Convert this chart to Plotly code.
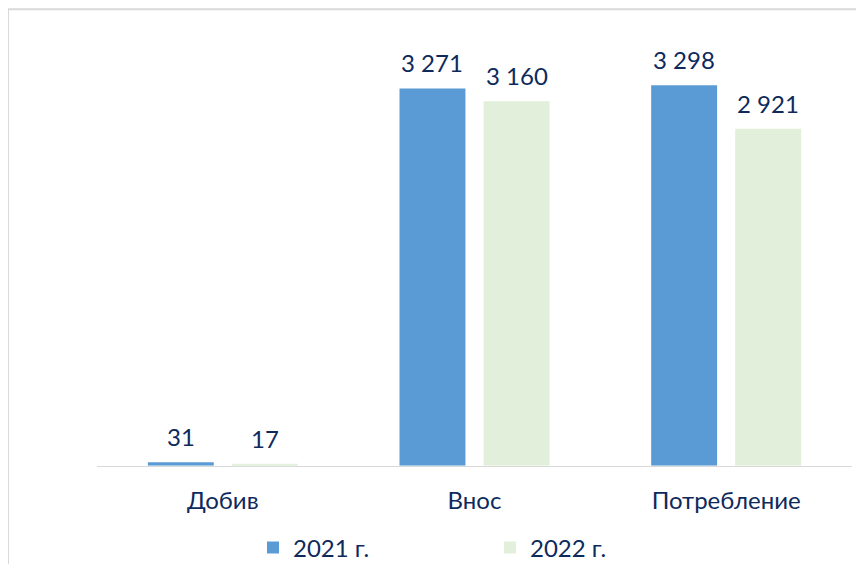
import plotly.graph_objects as go

categories = ["Добив", "Внос", "Потребление"]
series_names = ["2021 г.", "2022 г."]
values_2021 = [31, 3271, 3298]
values_2022 = [17, 3160, 2921]

colors = ["#5B9BD5", "#E2EFDA"]
text_color = "#0E2A5C"
FONT = "Lato"
FS = 24

def fmt(v):
    return f"{v:,}".replace(",", " ")

fig = go.Figure()
offsets = [-0.298, 0.036]
width = 0.262
for name, vals, col, off in zip(series_names, [values_2021, values_2022], colors, offsets):
    fig.add_trace(go.Bar(
        name=name, x=categories, y=vals, marker=dict(color=col, line=dict(width=0)),
        width=width, offset=off,
    ))
    for i, v in enumerate(vals):
        fig.add_annotation(
            x=i + off + width / 2, y=v, xref="x", yref="y",
            text=fmt(v), showarrow=False, yanchor="bottom", yshift=9,
            font=dict(family=FONT, size=FS, color=text_color),
        )

W, H = 864, 564
L, R, T, B = 89, 20, 31, 104
pw, ph = W - L - R, H - T - B
fx0 = (0 - L) / pw
fy1 = (ph - (1 - T)) / ph
frame = dict(color="#D9D9D9", width=2)
fig.add_shape(type="line", xref="paper", yref="paper", x0=fx0, x1=1.2, y0=fy1, y1=fy1, line=frame)
fig.add_shape(type="line", xref="paper", yref="paper", x0=fx0, x1=fx0, y0=fy1, y1=-0.4, line=frame)

fig.update_layout(
    width=W, height=H,
    margin=dict(l=L, r=R, t=T, b=B),
    paper_bgcolor="white", plot_bgcolor="white",
    font=dict(family=FONT, size=FS, color=text_color),
    barmode="group",
    showlegend=True,
    legend=dict(orientation="h", xref="container", yref="container",
                x=245 / W, xanchor="left", y=(H - 540) / H, yanchor="middle",
                entrywidth=192, entrywidthmode="pixels",
                font=dict(family=FONT, size=FS, color=text_color)),
    xaxis=dict(showline=True, linecolor="#D9D9D9", linewidth=1, ticks="",
               ticklabelstandoff=13,
               tickfont=dict(family=FONT, size=FS, color=text_color), showgrid=False),
    yaxis=dict(range=[0, 3700], visible=False, showgrid=False, zeroline=False),
)

fig.write_html("out.html")
